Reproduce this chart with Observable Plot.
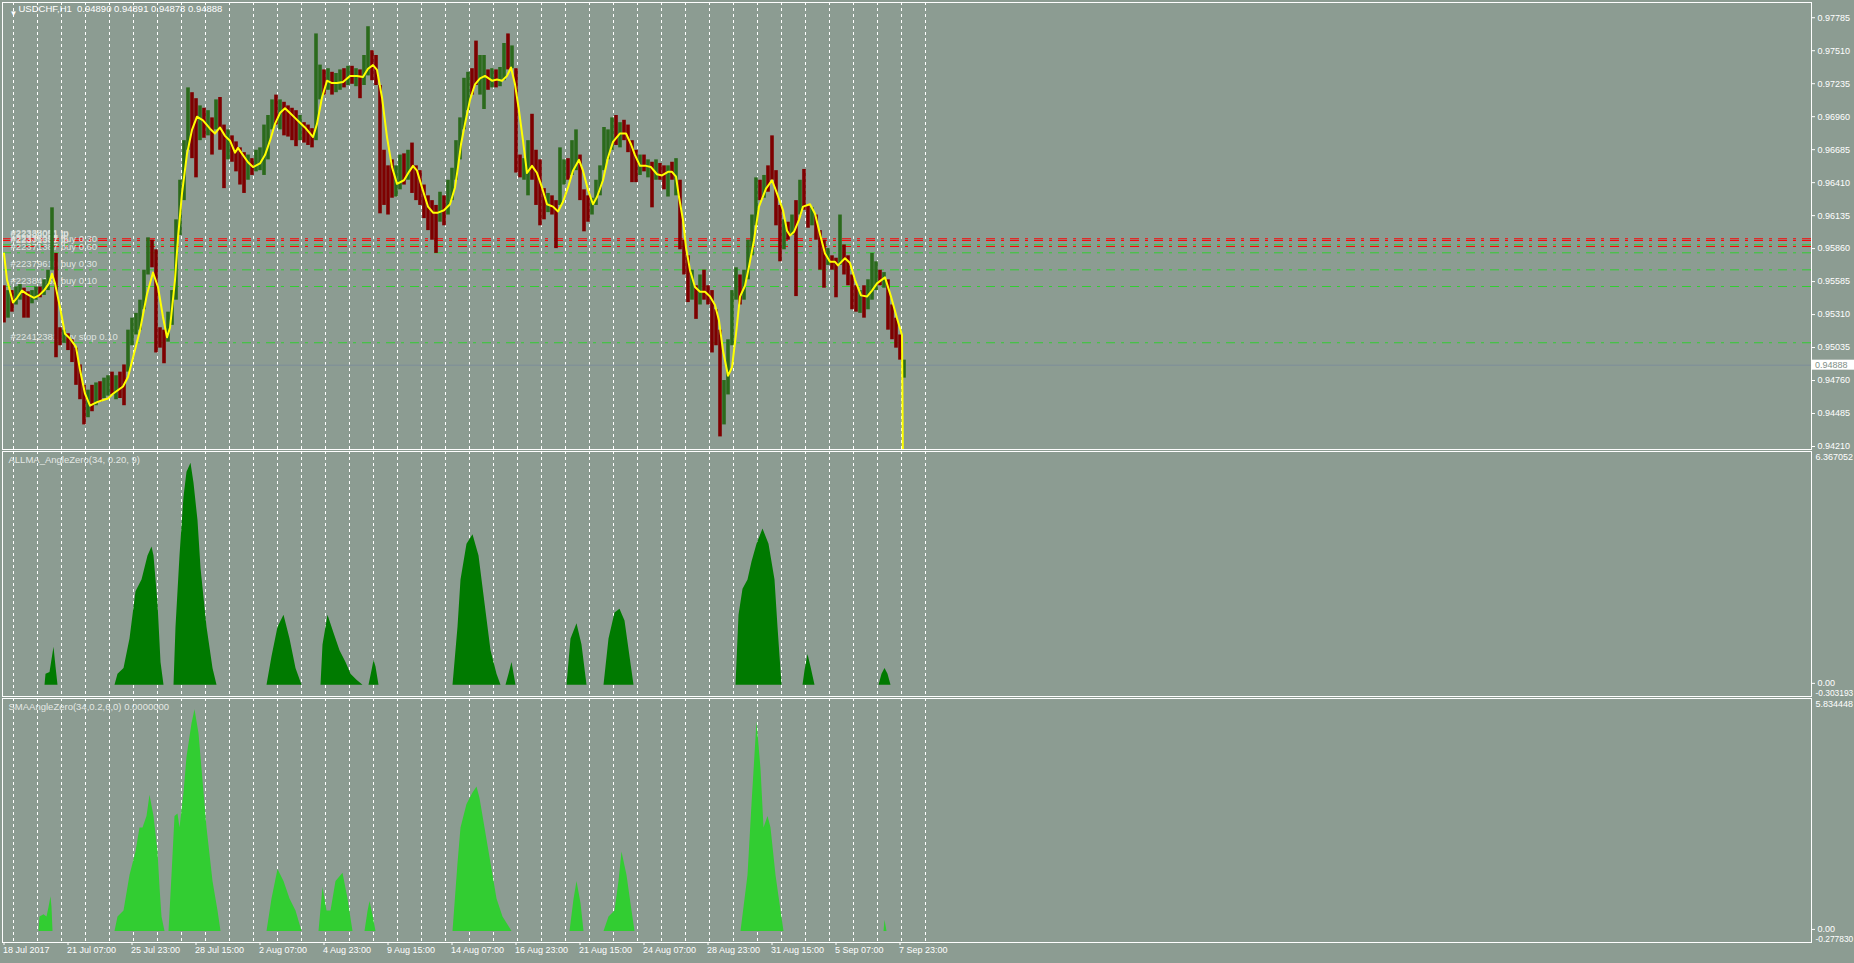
<!DOCTYPE html>
<html><head><meta charset="utf-8">
<script src="https://cdn.jsdelivr.net/npm/d3@7"></script>
<script src="https://cdn.jsdelivr.net/npm/@observablehq/plot@0.6"></script>
<style>
html,body{margin:0;padding:0;background:#8c9c92;}
#chart{position:relative;width:1854px;height:963px;background:#8c9c92;overflow:hidden;}
#chart svg{position:absolute;left:0;overflow:visible;}
</style></head>
<body><div id="chart"></div>
<script>
// ---------- DATA ----------
const header = "USDCHF,H1  0.94890 0.94891 0.94878 0.94888";
const lastClose = 0.94888;
const priceTicks = [0.94210,0.94485,0.94760,0.95035,0.95310,0.95585,0.95860,0.96135,0.96410,0.96685,0.96960,0.97235,0.97510,0.97785];
const xLabels = ["18 Jul 2017","21 Jul 07:00","25 Jul 23:00","28 Jul 15:00","2 Aug 07:00","4 Aug 23:00","9 Aug 15:00","14 Aug 07:00","16 Aug 23:00","21 Aug 15:00","24 Aug 07:00","28 Aug 23:00","31 Aug 15:00","5 Sep 07:00","7 Sep 23:00"];

// H1 candles sampled every 4 bars
const candleHigh = [
0.9555,0.9551,0.9551,0.9554,0.9556,0.9553,0.9550,0.9551,0.9554,0.9554,
0.9560,0.9568,0.9620,0.9582,0.9520,0.9518,0.9515,0.9510,0.9503,0.9489,
0.9472,0.9468,0.9472,0.9474,0.9475,0.9478,0.9480,0.9483,0.9480,0.9483,
0.9489,0.9518,0.9528,0.9532,0.9543,0.9568,0.9595,0.9593,0.9585,0.9520,
0.9518,0.9533,0.9551,0.9610,0.9643,0.9676,0.9720,0.9716,0.9711,0.9705,
0.9703,0.9701,0.9695,0.9710,0.9712,0.9689,0.9685,0.9680,0.9675,0.9670,
0.9666,0.9664,0.9661,0.9668,0.9670,0.9689,0.9697,0.9710,0.9714,0.9710,
0.9708,0.9705,0.9703,0.9701,0.9697,0.9691,0.9689,0.9686,0.9765,0.9739,
0.9735,0.9736,0.9733,0.9732,0.9735,0.9736,0.9738,0.9738,0.9736,0.9735,
0.9747,0.9771,0.9751,0.9747,0.9722,0.9668,0.9655,0.9660,0.9655,0.9664,
0.9665,0.9668,0.9674,0.9655,0.9651,0.9639,0.9630,0.9626,0.9622,0.9633,
0.9630,0.9643,0.9653,0.9676,0.9695,0.9728,0.9733,0.9736,0.9759,0.9747,
0.9747,0.9735,0.9736,0.9735,0.9737,0.9757,0.9765,0.9755,0.9736,0.9664,
0.9661,0.9676,0.9698,0.9668,0.9660,0.9636,0.9632,0.9630,0.9626,0.9670,
0.9660,0.9661,0.9676,0.9685,0.9664,0.9635,0.9630,0.9628,0.9643,0.9655,
0.9687,0.9685,0.9695,0.9697,0.9691,0.9693,0.9689,0.9676,0.9668,0.9664,
0.9664,0.9660,0.9658,0.9660,0.9657,0.9655,0.9655,0.9658,0.9661,0.9643,
0.9593,0.9580,0.9568,0.9555,0.9564,0.9568,0.9555,0.9551,0.9535,0.9518,
0.9476,0.9510,0.9551,0.9570,0.9564,0.9568,0.9593,0.9614,0.9645,0.9643,
0.9647,0.9655,0.9680,0.9651,0.9622,0.9610,0.9608,0.9614,0.9626,0.9643,
0.9652,0.9622,0.9620,0.9614,0.9601,0.9593,0.9586,0.9580,0.9578,0.9614,
0.9589,0.9580,0.9564,0.9555,0.9551,0.9555,0.9560,0.9582,0.9575,0.9568,
0.9566,0.9560,0.9539,0.9528,0.9514,0.9493];
const candleLow = [
0.9524,0.9528,0.9533,0.9539,0.9543,0.9528,0.9528,0.9540,0.9543,0.9545,
0.9547,0.9551,0.9568,0.9495,0.9505,0.9507,0.9501,0.9491,0.9472,0.9460,
0.9439,0.9445,0.9450,0.9455,0.9458,0.9461,0.9463,0.9464,0.9460,0.9461,
0.9455,0.9483,0.9505,0.9514,0.9518,0.9535,0.9564,0.9570,0.9499,0.9503,
0.9490,0.9508,0.9522,0.9543,0.9597,0.9626,0.9668,0.9661,0.9645,0.9676,
0.9678,0.9680,0.9664,0.9685,0.9668,0.9636,0.9660,0.9658,0.9650,0.9639,
0.9632,0.9643,0.9647,0.9650,0.9651,0.9647,0.9660,0.9685,0.9689,0.9685,
0.9680,0.9679,0.9676,0.9671,0.9676,0.9674,0.9672,0.9670,0.9676,0.9710,
0.9714,0.9718,0.9714,0.9716,0.9718,0.9720,0.9722,0.9723,0.9721,0.9711,
0.9722,0.9730,0.9726,0.9722,0.9615,0.9622,0.9614,0.9628,0.9629,0.9635,
0.9639,0.9643,0.9632,0.9626,0.9622,0.9611,0.9601,0.9593,0.9582,0.9608,
0.9605,0.9614,0.9626,0.9643,0.9660,0.9685,0.9701,0.9714,0.9722,0.9714,
0.9702,0.9718,0.9720,0.9720,0.9721,0.9726,0.9735,0.9736,0.9649,0.9645,
0.9643,0.9630,0.9643,0.9622,0.9605,0.9610,0.9616,0.9614,0.9586,0.9622,
0.9639,0.9643,0.9647,0.9651,0.9626,0.9600,0.9608,0.9614,0.9622,0.9630,
0.9651,0.9660,0.9668,0.9672,0.9670,0.9676,0.9666,0.9641,0.9641,0.9647,
0.9650,0.9645,0.9620,0.9643,0.9643,0.9635,0.9629,0.9643,0.9630,0.9585,
0.9564,0.9541,0.9543,0.9527,0.9539,0.9543,0.9539,0.9499,0.9505,0.9429,
0.9439,0.9464,0.9505,0.9543,0.9539,0.9543,0.9560,0.9580,0.9605,0.9626,
0.9628,0.9633,0.9643,0.9605,0.9575,0.9585,0.9593,0.9597,0.9546,0.9614,
0.9618,0.9603,0.9605,0.9593,0.9568,0.9553,0.9572,0.9568,0.9545,0.9572,
0.9564,0.9555,0.9535,0.9533,0.9532,0.9528,0.9535,0.9543,0.9551,0.9555,
0.9553,0.9518,0.9510,0.9503,0.9493,0.9478];
const candleDir = ("duduudduud"+"uuuddudddd"+"dududuudud"+"duuuuuuddd"+"duuuuuuddu"+
  "dududduddd"+"duduuuuudu"+"dddduddduu"+"duduududud"+"uudddddduu"+
  "dudddddddu"+"duuuuuuddu"+"ududuududd"+"uudddduddu"+"uduuddduuu"+
  "uuududdddu"+"dududdudud"+"ddududdddd"+"uuuuduuuud"+"uddddududu"+
  "dduddduddu"+"dddduduuud"+"uddddu").split("");

// ALMA (yellow) [bar, value]
const almaSeries = [
[0,0.9582],[3,0.9560],[9,0.9541],[13,0.9545],[18,0.9551],[23,0.9548],[30,0.9545],[35,0.9547],[40,0.9551],[45,0.9557],
[48,0.9565],[51,0.9557],[56,0.9537],[61,0.9515],[66,0.9511],[72,0.9504],[76,0.9485],[81,0.9465],[86,0.9455],[93,0.9458],
[100,0.9460],[104,0.9461],[109,0.9465],[119,0.9471],[124,0.9479],[129,0.9495],[136,0.9518],[143,0.9548],[149,0.9566],[154,0.9554],
[159,0.9529],[163,0.9512],[166,0.9520],[171,0.9560],[174,0.9595],[178,0.9632],[183,0.9665],[188,0.9685],[193,0.9696],[199,0.9693],
[206,0.9686],[211,0.9682],[216,0.9687],[221,0.9680],[226,0.9676],[231,0.9666],[234,0.9670],[239,0.9664],[244,0.9658],[249,0.9654],
[256,0.9657],[261,0.9664],[266,0.9676],[271,0.9690],[276,0.9699],[281,0.9703],[286,0.9699],[291,0.9695],[296,0.9691],[301,0.9687],
[306,0.9682],[309,0.9679],[313,0.9690],[318,0.9712],[323,0.9726],[328,0.9724],[333,0.9724],[339,0.9725],[346,0.9730],[353,0.9730],
[359,0.9729],[364,0.9736],[369,0.9739],[373,0.9735],[378,0.9712],[383,0.9679],[388,0.9654],[393,0.9640],[400,0.9643],[405,0.9650],
[409,0.9655],[413,0.9651],[418,0.9637],[424,0.9621],[429,0.9616],[434,0.9616],[440,0.9618],[446,0.9623],[451,0.9637],[454,0.9654],
[457,0.9673],[461,0.9690],[466,0.9710],[471,0.9723],[476,0.9728],[481,0.9730],[488,0.9726],[493,0.9727],[498,0.9726],[503,0.9730],
[507,0.9737],[511,0.9723],[515,0.9701],[519,0.9676],[523,0.9649],[528,0.9655],[533,0.9649],[538,0.9637],[543,0.9623],[549,0.9621],
[554,0.9617],[559,0.9625],[564,0.9637],[569,0.9651],[575,0.9660],[579,0.9651],[584,0.9635],[589,0.9623],[593,0.9629],[599,0.9643],
[604,0.9662],[609,0.9675],[616,0.9682],[622,0.9682],[627,0.9673],[631,0.9664],[636,0.9655],[642,0.9655],[647,0.9654],[653,0.9648],
[658,0.9647],[664,0.9650],[668,0.9650],[672,0.9646],[675,0.9629],[679,0.9610],[682,0.9587],[686,0.9568],[691,0.9554],[696,0.9550],
[701,0.9550],[706,0.9546],[711,0.9539],[715,0.9526],[719,0.9501],[724,0.9480],[728,0.9487],[732,0.9515],[736,0.9546],[741,0.9555],
[745,0.9571],[750,0.9593],[755,0.9621],[762,0.9636],[768,0.9643],[773,0.9632],[779,0.9618],[783,0.9601],[786,0.9597],[790,0.9600],
[795,0.9610],[799,0.9621],[806,0.9623],[811,0.9615],[816,0.9598],[821,0.9582],[826,0.9575],[831,0.9575],[834,0.9572],[841,0.9578],
[846,0.9574],[851,0.9560],[857,0.9547],[863,0.9546],[868,0.9551],[873,0.9557],[881,0.9562],[887,0.9546],[893,0.9528],[898,0.9514],
[899,0.9400]];

// order lines
const orderLabels = ["#22338051 tp","#22384051 tp","#22371387 tp","#22338051 buy 0.30","#22371387 buy 0.60","#22379610 buy 0.30","#22384051 buy 0.10","#22412381 buy stop 0.10"];
const orderPrices = [0.95942,0.95928,0.95878,0.95892,0.95825,0.95683,0.95544,0.95075];
const orderKinds  = ["tp","tp","tp","buy","buy","buy","buy","buy"];

// ALLMA_AngleZero histogram [bar, value]
const allmaName = "ALLMA_AngleZero(34, 0.20, 9)";
const allmaMax = 6.367052, allmaMin = -0.303193;
const allmaSeries = [
[0,0],[41,0],[42,0.30],[46,0.35],[48,0.70],[50,1.04],[52,0.50],[54,0],
[111,0],[114,0.30],[120,0.46],[126,1.26],[132,2.55],[138,2.87],[144,3.52],[148,3.77],[150,3.52],[154,2.23],[157,0.62],[160,0],
[170,0],[172,1.58],[176,3.52],[180,5.13],[183,5.80],[187,6.05],[190,5.50],[194,4.48],[197,3.19],[203,1.58],[209,0.46],[213,0],
[263,0],[268,0.78],[274,1.58],[280,1.91],[286,1.26],[292,0.46],[298,0],
[317,0],[319,1.10],[324,1.91],[330,1.42],[336,0.94],[342,0.62],[347,0.30],[353,0.14],[359,0],
[365,0],[368,0.40],[370,0.68],[372,0.50],[375,0],
[449,0],[454,1.58],[457,2.87],[463,3.84],[469,4.10],[475,3.52],[481,2.23],[487,0.94],[493,0.30],[497,0],
[502,0],[505,0.30],[508,0.62],[512,0],
[563,0],[567,1.26],[573,1.68],[578,1.10],[583,0],
[600,0],[605,1.26],[611,1.97],[616,2.07],[621,1.75],[626,0.78],[630,0],
[732,0],[735,1.91],[739,2.62],[744,2.87],[748,3.36],[753,3.84],[759,4.26],[765,3.84],[771,2.87],[774,1.58],[778,0],
[799,0],[801,0.40],[804,0.84],[807,0.50],[811,0],
[875,0],[878,0.30],[881,0.46],[884,0.30],[887,0],[899,0]];

// SMAAngleZero histogram [bar, value]
const smaName = "SMAAngleZero(34,0.2,6,0) 0.0000000";
const smaMax = 5.834448, smaMin = -0.277830;
const smaSeries = [
[0,0],[35,0],[36,0.36],[40,0.42],[43,0.36],[45,0.60],[47,0.87],[48,0.60],[49,0],
[111,0],[114,0.36],[120,0.51],[126,1.40],[132,1.99],[136,2.59],[139,2.59],[143,2.88],[146,3.41],[150,2.88],[154,1.99],[156,1.10],[158,0.36],[161,0],
[165,0],[168,1.40],[171,2.88],[174,2.94],[176,2.59],[180,3.47],[183,4.36],[188,5.20],[191,5.55],[195,4.95],[198,4.07],[203,2.59],[209,1.25],[214,0.51],[217,0],
[263,0],[268,0.81],[274,1.55],[280,1.25],[286,0.81],[292,0.51],[298,0],
[315,0],[319,1.10],[323,0.51],[327,0.51],[332,1.25],[339,1.46],[344,0.81],[349,0],
[361,0],[364,0.50],[366,0.75],[369,0.40],[372,0],
[449,0],[454,1.70],[457,2.59],[463,3.18],[469,3.47],[473,3.62],[476,3.33],[481,2.59],[487,1.70],[493,0.81],[499,0.36],[508,0],
[566,0],[570,0.80],[573,1.25],[577,0.70],[580,0],
[600,0],[605,0.36],[611,0.51],[615,1.25],[618,1.99],[623,1.40],[628,0.51],[631,0],
[737,0],[744,1.40],[748,3.18],[753,5.25],[757,4.07],[760,2.59],[764,2.88],[767,2.59],[772,1.40],[777,0.51],[780,0],
[880,0],[881,0.28],[883,0],[899,0]];

// ---------- STYLE ----------
const UP = "#2b6a1c", DOWN = "#7e0000";
const FONT = "'Liberation Sans', Arial, sans-serif";
const chart = document.getElementById("chart");
const W = 1854;
const xDomain = [-1.5, 1807.5];
const gridBars = d3.range(9, 922, 24);
const labelBars = xLabels.map((_, i) => 64 * i);

const candles = candleHigh.map((h, k) => ({bar: 4 * k, high: h, low: candleLow[k], up: candleDir[k] === "u"}));
const alma = almaSeries.map(([bar, val]) => ({bar, val}));
const orders = orderLabels.map((label, i) => ({label, price: orderPrices[i], kind: orderKinds[i]}));
const allma = allmaSeries.map(([bar, val]) => ({bar, val}));
const sma = smaSeries.map(([bar, val]) => ({bar, val}));

const baseStyle = {background: "transparent", color: "white", fontFamily: FONT, fontSize: "9px", overflow: "visible"};
const grid = () => Plot.ruleX(gridBars, {x: d => d, stroke: "white", strokeDasharray: "3,3", strokeWidth: 1, shapeRendering: "crispEdges"});
const frame = () => Plot.frame({stroke: "white", shapeRendering: "crispEdges"});

function place(svg, top) { svg.style.top = top + "px"; chart.appendChild(svg); return svg; }

// ---------- PANEL 1: price ----------
const p1 = Plot.plot({
  width: W, height: 451, marginLeft: 2, marginRight: 43, marginTop: 2, marginBottom: 2,
  style: baseStyle,
  x: {domain: xDomain, axis: null},
  y: {domain: [0.94185, 0.97912], label: null},
  marks: [
    grid(),
    Plot.ruleY([lastClose], {y: d => d, stroke: "#7d8e9b", strokeWidth: 1}),
    Plot.ruleY(orders, {y: "price", stroke: d => d.kind === "tp" ? "#ff0000" : "#32cd32", strokeDasharray: "9,6,3,6", strokeWidth: 1}),
    Plot.text(orders, {y: "price", text: "label", frameAnchor: "left", dx: 8, dy: -6, textAnchor: "start", fill: "#dfe3e0", fontSize: 9.5}),
    Plot.ruleX(candles.filter(d => d.up), {x: "bar", y1: "low", y2: "high", stroke: UP, strokeWidth: 3.6}),
    Plot.ruleX(candles.filter(d => !d.up), {x: "bar", y1: "low", y2: "high", stroke: DOWN, strokeWidth: 3.6}),
    Plot.line(alma, {x: "bar", y: "val", stroke: "#ffff00", strokeWidth: 2, clip: true}),
    Plot.axisY({anchor: "right", label: null, ticks: priceTicks, tickFormat: d => d.toFixed(5), tickSize: 3, tickPadding: 3}),
    Plot.text(["\u25BC"], {text: d => d, frameAnchor: "top-left", dx: 7, dy: 8, fontSize: 8, fill: "white"}),
    Plot.text([header], {text: d => d, frameAnchor: "top-left", dx: 16, dy: 3, lineAnchor: "top", textAnchor: "start", fill: "white", fontSize: 9.5}),
    frame()
  ]
});
place(p1, 0);
// current price marker on the price scale
{
  const yy = p1.scale("y").apply(lastClose);
  const s = d3.select(p1);
  s.append("rect").attr("x", 1812).attr("y", yy - 5).attr("width", 42).attr("height", 10).attr("fill", "white");
  s.append("text").attr("x", 1815).attr("y", yy).attr("dy", "0.35em").attr("text-anchor", "start").attr("fill", "#7f8f88")
    .attr("font-family", FONT).attr("font-size", 9).text(lastClose.toFixed(5));
}

// ---------- PANEL 2: ALLMA_AngleZero ----------
const p2 = Plot.plot({
  width: W, height: 247, marginLeft: 2, marginRight: 43, marginTop: 1, marginBottom: 1,
  style: baseStyle,
  x: {domain: xDomain, axis: null},
  y: {domain: [allmaMin, allmaMax], label: null},
  marks: [
    grid(),
    Plot.areaY(allma, {x: "bar", y: "val", fill: "#007a00", curve: "linear"}),
    Plot.axisY({anchor: "right", label: null, ticks: [0], tickFormat: d => d.toFixed(2), tickSize: 3, tickPadding: 3, dy: -2}),
    Plot.text([allmaMax.toFixed(6)], {text: d => d, frameAnchor: "top-right", dx: 4, dy: 2, lineAnchor: "top", textAnchor: "start", fill: "white"}),
    Plot.text([allmaMin.toFixed(6)], {text: d => d, frameAnchor: "bottom-right", dx: 4, dy: -1, lineAnchor: "bottom", textAnchor: "start", fill: "white", fontSize: 8.4}),
    Plot.text([allmaName], {text: d => d, frameAnchor: "top-left", dx: 6, dy: 5, lineAnchor: "top", textAnchor: "start", fill: "#e4e8e4", fontSize: 9.5}),
    frame()
  ]
});
place(p2, 450);

// ---------- PANEL 3: SMAAngleZero + time axis ----------
const p3 = Plot.plot({
  width: W, height: 266, marginLeft: 2, marginRight: 43, marginTop: 1, marginBottom: 21,
  style: baseStyle,
  x: {domain: xDomain, label: null},
  y: {domain: [smaMin, smaMax], label: null},
  marks: [
    grid(),
    Plot.areaY(sma, {x: "bar", y: "val", fill: "#32cd32", curve: "linear"}),
    Plot.axisY({anchor: "right", label: null, ticks: [0], tickFormat: d => d.toFixed(2), tickSize: 3, tickPadding: 3, dy: -2}),
    Plot.text([smaMax.toFixed(6)], {text: d => d, frameAnchor: "top-right", dx: 4, dy: 2, lineAnchor: "top", textAnchor: "start", fill: "white"}),
    Plot.text([smaMin.toFixed(6)], {text: d => d, frameAnchor: "bottom-right", dx: 4, dy: -1, lineAnchor: "bottom", textAnchor: "start", fill: "white", fontSize: 8.4}),
    Plot.text([smaName], {text: d => d, frameAnchor: "top-left", dx: 6, dy: 5, lineAnchor: "top", textAnchor: "start", fill: "#e4e8e4", fontSize: 9.5}),
    Plot.axisX({anchor: "bottom", label: null, ticks: labelBars, tickSize: 3, tickFormat: () => ""}),
    Plot.text(labelBars.map((bar, i) => ({bar, label: xLabels[i]})), {x: "bar", text: "label", frameAnchor: "bottom", dy: 10, dx: -1, textAnchor: "start", fill: "white"}),
    frame()
  ]
});
place(p3, 697);
</script>
</body></html>
